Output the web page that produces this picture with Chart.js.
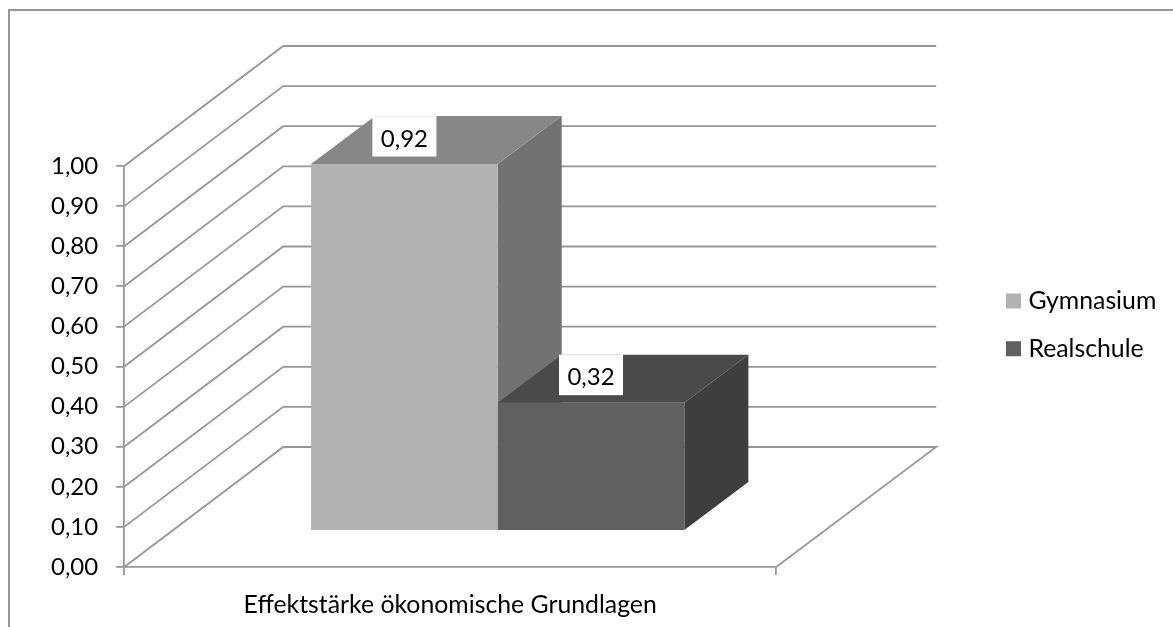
<!DOCTYPE html>
<html><head><meta charset="utf-8">
<style>html,body{margin:0;padding:0;background:#fff}#w{width:1173px;height:627px;position:relative}</style>
<script src="https://cdn.jsdelivr.net/npm/chart.js@4/dist/chart.umd.min.js"></script>
</head><body><div id="w"><canvas id="c" width="1173" height="627"></canvas></div>
<script>
const categories = ['Effektstärke ökonomische Grundlagen'];
const gymnasium = [0.915];
const realschule = [0.32];
const seriesNames = ['Gymnasium', 'Realschule'];
const frontColors = ['#b2b2b2', '#606060'];
const topColors = ['#878787', '#4a4a4a'];
const sideColors = ['#727272', '#3e3e3e'];
const fontFamily = 'Lato, "Open Sans", sans-serif';
const fontSize = 24;
const textSize = 24.8;
const lineColor = '#979797';
const wallDX = 159, wallDY = -120;          // room depth
const shiftDX = 47.5, shiftDY = -36;        // bars stand this far into the room
const barDX = 64, barDY = -48;              // depth of a bar
const fmt = v => v.toFixed(2).replace('.', ',');

const room3d = {
  id: 'room3d',
  beforeDraw(chart) {
    const c = chart.ctx;
    c.save();
    c.strokeStyle = lineColor; c.lineWidth = 2;
    c.strokeRect(9, 10, 1300, 800);
    c.restore();
  },
  afterLayout(chart) {
    const l = chart.legend;
    const w = l.right - l.left, h = l.bottom - l.top;
    l.left = 988; l.right = l.left + w;
    l.top = 265.5; l.bottom = l.top + h;
  },
  beforeDatasetsDraw(chart) {
    const c = chart.ctx, y = chart.scales.y, a = chart.chartArea;
    c.save();
    c.strokeStyle = lineColor; c.lineWidth = 1.8; c.lineJoin = 'miter';
    y.ticks.forEach(t => {
      const py = y.getPixelForValue(t.value);
      c.beginPath();
      c.moveTo(a.left, py);
      c.lineTo(a.left + wallDX, py + wallDY);
      c.lineTo(a.right + wallDX + 1, py + wallDY);
      if (t.value === 0) c.lineTo(a.right, py);
      c.stroke();
    });
    chart.data.datasets.forEach((ds, i) => {
      chart.getDatasetMeta(i).data.forEach(b => {
        const l = b.x - b.width / 2 + shiftDX, r = b.x + b.width / 2 + shiftDX;
        const t = b.y + shiftDY, u = b.base + shiftDY;
        c.fillStyle = sideColors[i];
        c.beginPath(); c.moveTo(r, t); c.lineTo(r + barDX, t + barDY); c.lineTo(r + barDX, u + barDY); c.lineTo(r, u); c.closePath(); c.fill();
        c.fillStyle = topColors[i];
        c.beginPath(); c.moveTo(l, t); c.lineTo(l + barDX, t + barDY); c.lineTo(r + barDX, t + barDY); c.lineTo(r, t); c.closePath(); c.fill();
      });
    });
    c.restore();
  },
  beforeDatasetDraw(chart) {
    chart.ctx.save();
    chart.ctx.translate(shiftDX, shiftDY);
  },
  afterDatasetDraw(chart) {
    chart.ctx.restore();
  },
  afterDatasetsDraw(chart) {
    const c = chart.ctx;
    c.save();
    c.font = fontSize + 'px ' + fontFamily;
    c.textAlign = 'center'; c.textBaseline = 'middle';
    chart.data.datasets.forEach((ds, i) => {
      chart.getDatasetMeta(i).data.forEach((b, j) => {
        const cx = b.x + shiftDX, top = b.y + shiftDY;
        c.fillStyle = '#fff';
        c.fillRect(cx - 32, top - 48, 64, 40.5);
        c.fillStyle = '#000';
        c.fillText(fmt(ds.data[j]), cx, top - 25);
      });
    });
    c.restore();
  }
};

new Chart(document.getElementById('c'), {
  type: 'bar',
  data: {
    labels: categories,
    datasets: [
      { label: seriesNames[0], data: gymnasium, backgroundColor: frontColors[0], clip: false },
      { label: seriesNames[1], data: realschule, backgroundColor: frontColors[1], clip: false }
    ]
  },
  options: {
    responsive: false,
    animation: false,
    events: [],
    layout: { padding: { left: 33, top: 166, bottom: 0, right: 218.5 } },
    datasets: { bar: { barPercentage: 1, categoryPercentage: 0.5725 } },
    scales: {
      x: {
        afterFit(s) { s.height = 60; },
        grid: { drawOnChartArea: false, color: lineColor, lineWidth: 1.8, tickLength: 8 },
        border: { color: lineColor, width: 1.8 },
        ticks: { color: '#000', font: { family: fontFamily, size: textSize }, padding: 15 }
      },
      y: {
        min: 0, max: 1,
        grid: { drawOnChartArea: false, color: lineColor, lineWidth: 1.8, tickLength: 8 },
        border: { color: lineColor, width: 1.8 },
        ticks: { stepSize: 0.1, color: '#000', font: { family: fontFamily, size: fontSize }, padding: 18, callback: v => fmt(v) }
      }
    },
    plugins: {
      tooltip: { enabled: false },
      title: { display: false },
      legend: {
        position: 'right',
        align: 'start',
        labels: {
          color: '#000',
          font: { family: fontFamily, size: textSize },
          boxWidth: 5, boxHeight: 5, padding: 23,
          generateLabels(chart) {
            return Chart.defaults.plugins.legend.labels.generateLabels(chart)
              .map(l => Object.assign(l, { lineWidth: 10, strokeStyle: l.fillStyle }));
          }
        }
      }
    }
  },
  plugins: [room3d]
});
</script></body></html>
